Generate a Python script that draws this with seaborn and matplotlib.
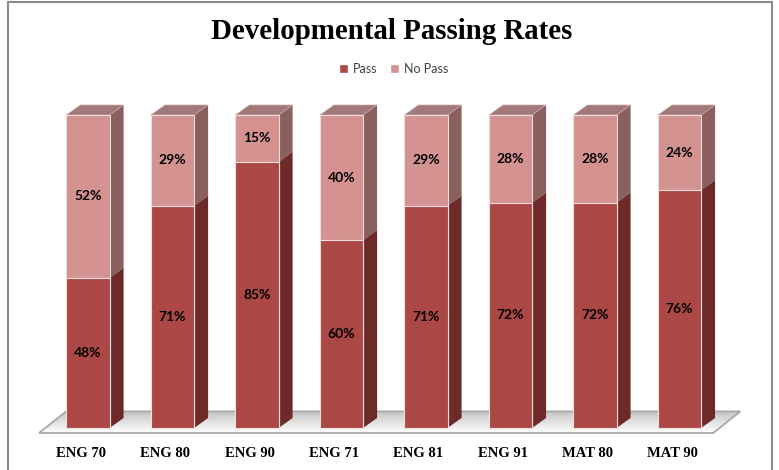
import numpy as np
import pandas as pd
import seaborn as sns
from matplotlib import pyplot as plt
from matplotlib import transforms
from matplotlib.patches import Polygon, Patch
from matplotlib.lines import Line2D

courses = ['ENG 70', 'ENG 80', 'ENG 90', 'ENG 71', 'ENG 81', 'ENG 91', 'MAT 80', 'MAT 90']
pass_pct = [48, 71, 85, 60, 71, 72, 72, 76]
nopass_pct = [52, 29, 15, 40, 29, 28, 28, 24]

PASS = '#ab4744'
PASS_SIDE = '#6d2a29'
NOPASS = '#d49391'
NOPASS_SIDE = '#8a605f'
TOP = '#a07978'

sns.set_theme(style='white')
plt.rcParams['font.family'] = ['Lato', 'DejaVu Sans']

df = pd.DataFrame({'course': courses, 'pass': pass_pct, 'nopass': nopass_pct})
df['total'] = df['pass'] + df['nopass']

fig = plt.figure(figsize=(7.79, 4.70), dpi=100)
ax = fig.add_axes([38 / 779, 30 / 470, 707 / 779, 340 / 470])

# 3d depth of the columns, in data units
dx, dy = 0.166, 3.2

# floor slab
fl = [(-0.58, -1.6), (7.40, -1.6), (7.72, 5.3), (-0.26, 5.3)]
floor = Polygon(fl, closed=True, facecolor='none', edgecolor='#a8a8a8', lw=1.3, zorder=1)
ax.add_patch(floor)
grad = np.linspace(0, 1, 50).reshape(-1, 1)
im = ax.imshow(grad, extent=(-0.6, 7.8, -1.6, 5.3), origin='lower', aspect='auto',
               cmap=plt.matplotlib.colors.LinearSegmentedColormap.from_list('fl', ['#ffffff', '#c4c4c4']),
               zorder=0.5)
im.set_clip_path(floor)

# stacked columns: full bar in no-pass colour, pass drawn over it
sns.barplot(data=df, x='course', y='total', color=NOPASS, saturation=1, width=0.51,
            edgecolor='#f3dede', linewidth=0.8, ax=ax, zorder=3)
sns.barplot(data=df, x='course', y='pass', color=PASS, saturation=1, width=0.51,
            edgecolor='#f3dede', linewidth=0.8, ax=ax, zorder=3)

rects = [b for b in ax.patches if isinstance(b, plt.Rectangle)]
n = len(courses)
tot_bars = rects[:n]
pass_bars = rects[n:2 * n]

for tb, pb in zip(tot_bars, pass_bars):
    x0, w = tb.get_x(), tb.get_width()
    x1 = x0 + w
    ytop = tb.get_height()
    ypass = pb.get_height()
    # side faces
    ax.add_patch(Polygon([(x1, ypass), (x1 + dx, ypass + dy), (x1 + dx, ytop + dy), (x1, ytop)],
                         facecolor=NOPASS_SIDE, edgecolor='none', zorder=2.5))
    ax.add_patch(Polygon([(x1, 0), (x1 + dx, dy), (x1 + dx, ypass + dy), (x1, ypass)],
                         facecolor=PASS_SIDE, edgecolor='none', zorder=2.6))
    # top face
    ax.add_patch(Polygon([(x0, ytop), (x0 + dx, ytop + dy), (x1 + dx, ytop + dy), (x1, ytop)],
                         facecolor=TOP, edgecolor='#c9a9a8', lw=0.5, zorder=2.5, clip_on=False))
    cx = x0 + w / 2
    ax.text(cx, ypass / 2, f'{ypass:.0f}%', ha='center', va='center', fontsize=10,
            fontweight='bold', color='black', zorder=5)
    ax.text(cx, ypass + (ytop - ypass) / 2, f'{ytop - ypass:.0f}%', ha='center', va='center',
            fontsize=10, fontweight='bold', color='black', zorder=5)

ax.set_xlim(-0.592, 7.775)
ax.set_ylim(-3.83, 104.8)
ax.set_xlabel('')
ax.set_ylabel('')
ax.set_yticks([])
ax.tick_params(axis='x', length=0, pad=5, labelcolor='black')
shift = transforms.ScaledTranslation(-7.5 / 100, 0, fig.dpi_scale_trans)
for lab in ax.get_xticklabels():
    lab.set_family(['Liberation Serif'])
    lab.set_fontweight('bold')
    lab.set_fontsize(10.5)
    lab.set_transform(lab.get_transform() + shift)
for s in ax.spines.values():
    s.set_visible(False)
ax.patch.set_alpha(0)

fig.text(0.503, 0.934, 'Developmental Passing Rates', ha='center', va='center',
         fontsize=20.8, fontweight='bold', color='black', family=['Liberation Serif'])

handles = [Patch(facecolor=PASS, label='Pass'), Patch(facecolor=NOPASS, label='No Pass')]
fig.legend(handles=handles, loc='center', bbox_to_anchor=(0.505, 0.853), ncol=2,
           frameon=False, fontsize=9, handlelength=0.7, handleheight=0.7,
           handletextpad=0.4, columnspacing=1.0, labelcolor='#404040')

# chart border
for xs, ys in [([8, 8], [0, 468]), ([8, 772], [468, 468]), ([772, 772], [468, 0])]:
    fig.add_artist(Line2D(np.array(xs) / 779, np.array(ys) / 470, color='#8a8a8a', lw=1.5))

fig.savefig('out.png', dpi=100)
